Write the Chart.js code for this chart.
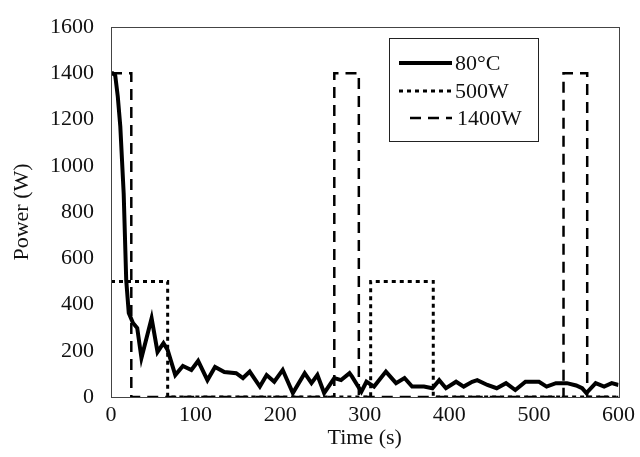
<!DOCTYPE html>
<html>
<head>
<meta charset="utf-8">
<script src="https://cdn.jsdelivr.net/npm/chart.js@4/dist/chart.umd.min.js"></script>
<style>
  html, body { margin: 0; padding: 0; background: #fff; }
  #wrap { width: 640px; height: 457px; position: relative; }
</style>
</head>
<body>
<div id="wrap"><canvas id="powerChart"></canvas></div>
<script>
"use strict";

const X_TICKS = [0, 100, 200, 300, 400, 500, 600];
const Y_TICKS = [0, 200, 400, 600, 800, 1000, 1200, 1400, 1600];

const TEMP_TIME = [0, 2, 5, 8, 11, 15, 18, 21, 26, 31, 36, 48, 55, 62, 67, 76, 85, 95, 103, 114,
  123, 134, 148, 156, 164, 176, 184, 193, 203, 215, 229, 237, 244, 252, 264, 272, 282, 285, 296, 302,
  311, 325, 337, 347, 356, 370, 380, 388, 396, 408, 417, 427, 433, 445, 456, 467, 478, 490, 506, 515,
  526, 539, 550, 557, 562, 573, 583, 592, 600];
const TEMP_POWER = [1400, 1400, 1390, 1300, 1170, 880, 505, 363, 320, 298, 169, 341, 195, 233, 203, 95, 134, 117, 156, 73,
  130, 108, 103, 82, 110, 45, 95, 66, 117, 17, 103, 60, 95, 17, 82, 73, 103, 88, 23, 66,
  45, 110, 60, 82, 45, 45, 38, 73, 38, 66, 45, 66, 73, 52, 38, 60, 30, 66, 66, 45,
  60, 60, 50, 38, 17, 60, 45, 60, 52];

const W500_TIME = [0, 67, 67, 307, 307, 381, 381, 600];
const W500_POWER = [500, 500, 0, 0, 500, 500, 0, 0];

const W1400_TIME = [0, 24, 24, 264, 264, 293, 293, 535, 535, 563, 563, 600];
const W1400_POWER = [1400, 1400, 0, 0, 1400, 1400, 0, 0, 1400, 1400, 0, 0];

const FONT = "'Liberation Serif', 'Times New Roman', serif";
const FONT_SIZE = 22;

function toPoints(xs, ys) {
  return xs.map((x, i) => ({ x, y: ys[i] }));
}

const frame = {
  id: "frame",
  afterDraw(chart) {
    const { ctx, chartArea: a } = chart;
    ctx.save();
    ctx.strokeStyle = "#444";
    ctx.lineWidth = 1;
    ctx.strokeRect(Math.round(a.left) + 0.5, Math.round(a.top) + 0.5,
      Math.round(a.right - a.left), Math.round(a.bottom - a.top));
    ctx.restore();
  }
};

// legend in a box inside the plot, like the original
const boxLegend = {
  id: "boxLegend",
  afterDraw(chart) {
    const ctx = chart.ctx;
    const box = { x: 389, y: 38, w: 149, h: 103 };
    ctx.save();
    ctx.fillStyle = "#fff";
    ctx.fillRect(box.x, box.y, box.w, box.h);
    ctx.strokeStyle = "#222";
    ctx.lineWidth = 1;
    ctx.strokeRect(box.x + 0.5, box.y + 0.5, box.w, box.h);
    const rows = [63, 91, 118];
    const lineStart = [399, 399, 410];
    chart.data.datasets.forEach((ds, i) => {
      const y = rows[i];
      ctx.beginPath();
      ctx.strokeStyle = ds.borderColor;
      ctx.lineWidth = ds.borderWidth;
      ctx.setLineDash(ds.borderDash || []);
      ctx.moveTo(lineStart[i], y);
      ctx.lineTo(452, y);
      ctx.stroke();
      ctx.setLineDash([]);
      ctx.fillStyle = "#111";
      ctx.font = FONT_SIZE + "px " + FONT;
      ctx.textBaseline = "middle";
      ctx.fillText(ds.label, i === 2 ? 457 : 455, y + 1);
    });
    ctx.restore();
  }
};

const tickFont = { family: FONT, size: FONT_SIZE };

new Chart(document.getElementById("powerChart"), {
  type: "line",
  data: {
    datasets: [
      {
        label: "80°C",
        data: toPoints(TEMP_TIME, TEMP_POWER),
        borderColor: "#000",
        borderWidth: 4,
        pointRadius: 0,
        tension: 0
      },
      {
        label: "500W",
        data: toPoints(W500_TIME, W500_POWER),
        borderColor: "#000",
        borderWidth: 3,
        borderDash: [4, 4],
        pointRadius: 0,
        tension: 0
      },
      {
        label: "1400W",
        data: toPoints(W1400_TIME, W1400_POWER),
        borderColor: "#000",
        borderWidth: 2.5,
        borderDash: [11, 7],
        pointRadius: 0,
        tension: 0
      }
    ]
  },
  options: {
    responsive: true,
    maintainAspectRatio: false,
    animation: false,
    layout: { padding: { top: 27, right: 20, left: 0, bottom: 0 } },
    plugins: {
      legend: { display: false },
      tooltip: { enabled: false }
    },
    scales: {
      x: {
        type: "linear",
        min: 0,
        max: 600,
        afterBuildTicks: scale => { scale.ticks = X_TICKS.map(v => ({ value: v })); },
        afterFit: scale => { scale.height = 60; },
        grid: { display: false, drawTicks: false },
        border: { display: false },
        ticks: { color: "#111", font: tickFont, padding: 5, maxRotation: 0, callback: v => String(v) },
        title: { display: true, text: "Time (s)", color: "#111", font: tickFont, padding: 6 }
      },
      y: {
        min: 0,
        max: 1600,
        afterBuildTicks: scale => { scale.ticks = Y_TICKS.map(v => ({ value: v })); },
        afterFit: scale => { scale.width = 111; scale.paddingTop = 0; scale.paddingBottom = 0; },
        grid: { display: false, drawTicks: false },
        border: { display: false },
        ticks: { color: "#111", font: { family: FONT, size: FONT_SIZE, lineHeight: 0.8 }, padding: 17, callback: v => String(v) },
        title: { display: true, text: "Power (W)", color: "#111", font: tickFont, padding: 9 }
      }
    }
  },
  plugins: [frame, boxLegend]
});
</script>
</body>
</html>
